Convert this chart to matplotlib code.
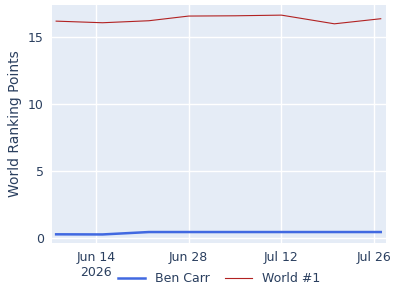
import matplotlib

matplotlib.use("Agg")

import matplotlib.pyplot as plt
import matplotlib.dates as mdates
import numpy as np
import pandas as pd

# --- Data ---
dates = pd.to_datetime(["2026-06-08", "2026-06-15", "2026-06-22", "2026-06-28",
                        "2026-07-05", "2026-07-12", "2026-07-20", "2026-07-27"])
ben_carr = [0.25, 0.24, 0.42, 0.42, 0.42, 0.42, 0.42, 0.42]
world_1 = [16.2, 16.08, 16.23, 16.58, 16.6, 16.65, 16.0, 16.38]

tick_dates = pd.to_datetime(["2026-06-14", "2026-06-28", "2026-07-12", "2026-07-26"])
tick_labels = ["Jun 14\n2026", "Jun 28", "Jul 12", "Jul 26"]

TEXT = "#2a3f5f"

fig = plt.figure(figsize=(4, 3), dpi=100)
ax = fig.add_axes([0.13, 0.19, 0.835, 0.793])
ax.set_facecolor("#E5ECF6")

ax.plot(dates, ben_carr, color="#4169E1", linewidth=1.8, label="Ben Carr")
ax.plot(dates, world_1, color="#B22222", linewidth=0.8, label="World #1")

ax.set_xlim(pd.Timestamp("2026-06-07 09:00"), pd.Timestamp("2026-07-27 19:00"))
ax.set_ylim(-0.4, 17.4)

ax.set_xticks(tick_dates)
ax.set_xticklabels(tick_labels)
ax.set_yticks([0, 5, 10, 15])

ax.grid(True, color="white", linewidth=1)
ax.set_axisbelow(True)
for s in ax.spines.values():
    s.set_visible(False)
ax.tick_params(length=0, labelsize=9, colors=TEXT, pad=6)

ax.set_ylabel("World Ranking Points", fontsize=10, color=TEXT)

ax.legend(loc="upper center", bbox_to_anchor=(0.5, -0.075), ncol=2, frameon=False,
          fontsize=9, labelcolor=TEXT, handlelength=2.2, columnspacing=1.2)

fig.savefig("out.png", dpi=100)
